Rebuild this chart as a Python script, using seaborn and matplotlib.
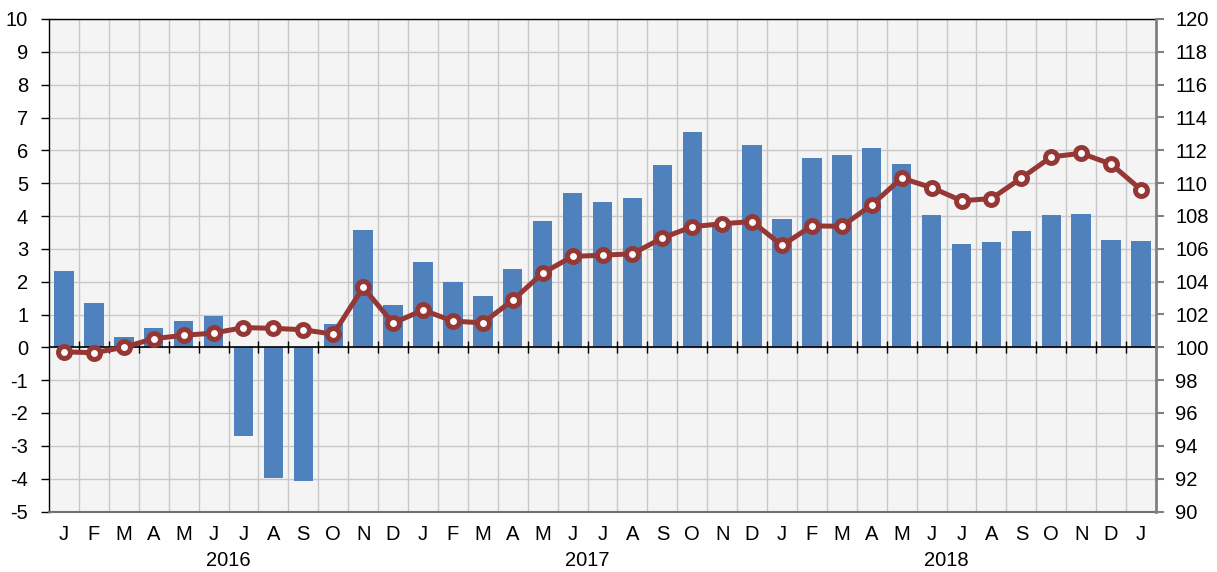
import pandas as pd
import seaborn as sns
import matplotlib.pyplot as plt
import matplotlib.transforms as mtransforms

# Data (Jan 2016 - Jan 2019)
month_letters = ['J', 'F', 'M', 'A', 'M', 'J', 'J', 'A', 'S', 'O', 'N', 'D'] * 3 + ['J']
month_keys = [f'{y}-{m:02d}' for y in (2016, 2017, 2018) for m in range(1, 13)] + ['2019-01']
years = ['2016', '2017', '2018']

# bars, left axis (% change)
bar_values = [2.32, 1.35, 0.32, 0.58, 0.80, 0.95, -2.71, -3.97, -4.08, 0.72, 3.57, 1.28,
              2.60, 2.00, 1.57, 2.38, 3.85, 4.69, 4.42, 4.54, 5.56, 6.55, 3.75, 6.16,
              3.91, 5.77, 5.85, 6.06, 5.57, 4.02, 3.16, 3.22, 3.53, 4.04, 4.06, 3.28,
              3.24]

# line, right axis (index)
line_values = [99.73, 99.67, 100.0, 100.53, 100.73, 100.87, 101.2, 101.16, 101.07, 100.8, 103.65, 101.47,
               102.27, 101.6, 101.49, 102.87, 104.52, 105.54, 105.61, 105.7, 106.66, 107.35, 107.53, 107.66,
               106.21, 107.4, 107.37, 108.68, 110.31, 109.73, 108.93, 109.06, 110.31, 111.6, 111.82, 111.16,
               109.6]

df = pd.DataFrame({'month': month_keys, 'change': bar_values,
                   'index': line_values, 'pos': range(len(month_keys))})

plt.rcParams['font.family'] = ['Liberation Sans', 'DejaVu Sans']
plt.rcParams['font.size'] = 14.5
plt.rcParams['axes.unicode_minus'] = False

fig = plt.figure(figsize=(12.17, 5.72), dpi=100)
ax = fig.add_axes([49 / 1217, 60.5 / 572, 1107 / 1217, 492.5 / 572])
ax.set_facecolor('#f4f4f4')

# bars
sns.barplot(data=df, x='month', y='change', color='#4F81BD', saturation=1,
            width=0.65, ax=ax)

n = len(month_keys)
dividers = [k - 0.5 for k in range(1, n)]
ax.set_xlim(-0.5, n - 0.5)
ax.set_ylim(-5, 10)
ax.set_yticks(range(-5, 11))
ax.set_xticks(range(n))
ax.set_xticklabels(month_letters)
ax.set_xticks(dividers, minor=True)
ax.set_xlabel('')
ax.set_ylabel('')
ax.set_axisbelow(True)
ax.grid(True, axis='y', which='major', color='#c8c8c8', lw=1)
ax.grid(True, axis='x', which='minor', color='#c8c8c8', lw=1)
ax.grid(False, axis='x', which='major')
ax.tick_params(axis='x', which='both', length=0, pad=10)
ax.tick_params(axis='y', length=6, width=1, direction='out', pad=9)
for side in ['left', 'top']:
    ax.spines[side].set_color('black')
    ax.spines[side].set_linewidth(1)
ax.spines['bottom'].set_color('#707070')
ax.spines['bottom'].set_linewidth(1.5)
ax.spines['right'].set_visible(False)

# zero line with month dividers
ax.axhline(0, color='black', lw=1.2, zorder=3)
ax.vlines(dividers, -0.18, 0.18, color='black', lw=1, zorder=3)

# year labels
trans = mtransforms.blended_transform_factory(ax.transData, ax.transAxes)
for i, yr in enumerate(years):
    ax.text(12 * i + 5.5, -0.099, yr, transform=trans, ha='center', va='center')

# line on right axis
ax2 = ax.twinx()
sns.lineplot(data=df, x='pos', y='index', ax=ax2, color='#953735', lw=3.6,
             marker='o', markersize=8.6, markerfacecolor='white',
             markeredgecolor='#953735', markeredgewidth=3.6)
ax2.set_ylim(90, 120)
ax2.set_yticks(range(90, 121, 2))
ax2.set_ylabel('')
ax2.set_xlabel('')
ax2.set_xlim(-0.5, n - 0.5)
ax2.tick_params(axis='y', length=6, width=1.5, color='#808080', direction='out', pad=8)
ax2.spines['right'].set_color('#808080')
ax2.spines['right'].set_linewidth(2)
for side in ['left', 'top', 'bottom']:
    ax2.spines[side].set_visible(False)

fig.savefig('out.png', dpi=100)
